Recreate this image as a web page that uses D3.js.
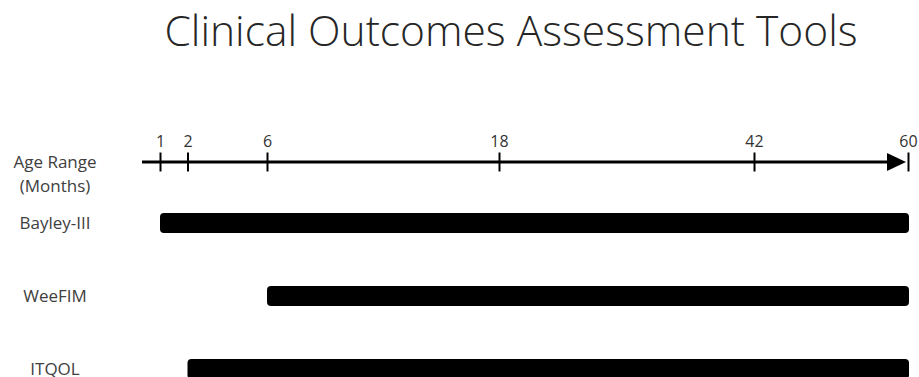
<!DOCTYPE html>
<html>
<head>
<meta charset="utf-8">
<script src="https://cdn.jsdelivr.net/npm/d3@7"></script>
<style>
  body { margin: 0; background: #fff; }
  text { font-family: "Open Sans", sans-serif; }
</style>
</head>
<body>
<div id="chart"></div>
<script>
// data
const titleText = 'Clinical Outcomes Assessment Tools';
const axisLabel = ['Age Range', '(Months)'];
const ageTicks = [1, 2, 6, 18, 42, 60];
const tools = ['Bayley-III', 'WeeFIM', 'ITQOL'];
const startAge = [1, 6, 2];
const endAge = [60, 60, 60];

const width = 919;
const height = 377;
const axisY = 162;

let svg = d3.select('#chart')
  .append('svg')
  .attr('width', width)
  .attr('height', height);

// the timeline is not even: each labelled age sits at its own place
let x = d3.scaleLinear()
  .domain(ageTicks)
  .range([160, 187.5, 267, 499, 754, 908]);

let y = d3.scalePoint()
  .domain(tools)
  .range([223, 369]);

// title
svg.append('text')
  .attr('x', 511)
  .attr('y', 46)
  .attr('text-anchor', 'middle')
  .style('font-size', '42.5px')
  .style('font-weight', 300)
  .attr('fill', '#262626')
  .text(titleText);

// axis line with arrow
const lineStart = x.range()[0] - 18;
const tip = x(60) - 2;
svg.append('line')
  .attr('x1', lineStart)
  .attr('x2', tip - 10)
  .attr('y1', axisY)
  .attr('y2', axisY)
  .attr('stroke', '#000')
  .attr('stroke-width', 3);

svg.append('path')
  .attr('d', `M${tip},${axisY} L${tip - 19},${axisY - 9} L${tip - 19},${axisY + 9} Z`)
  .attr('fill', '#000');

const xAxisCall = d3.axisTop(x)
  .tickValues(ageTicks)
  .tickFormat(d3.format('d'))
  .tickSize(19)
  .tickPadding(6);

const xAxisGroup = svg.append('g')
  .attr('transform', 'translate(0,' + (axisY + 9.5) + ')')
  .call(xAxisCall);

xAxisGroup.select('.domain').remove();
xAxisGroup.selectAll('.tick line')
  .attr('stroke', '#000')
  .attr('stroke-width', 2);
xAxisGroup.selectAll('.tick text')
  .attr('fill', '#333')
  .style('font-family', '"Open Sans", sans-serif')
  .style('font-size', '16px');

// left labels
const labelX = 55;
svg.selectAll('.axis-label')
  .data(axisLabel)
  .enter()
  .append('text')
    .attr('class', 'axis-label')
    .attr('x', labelX)
    .attr('y', (d, i) => axisY + 6 + i * 24)
    .attr('text-anchor', 'middle')
    .attr('fill', '#404040')
    .style('font-size', '17px')
    .text(d => d);

svg.selectAll('.tool-label')
  .data(tools)
  .enter()
  .append('text')
    .attr('class', 'tool-label')
    .attr('x', labelX)
    .attr('y', d => y(d) + 6)
    .attr('text-anchor', 'middle')
    .attr('fill', '#404040')
    .style('font-size', '17px')
    .text(d => d);

// bars
const barH = 20;
svg.selectAll('.bar')
  .data(tools)
  .enter()
  .append('rect')
    .attr('class', 'bar')
    .attr('x', (d, i) => x(startAge[i]))
    .attr('y', d => y(d) - barH / 2)
    .attr('width', (d, i) => x(endAge[i]) + 1 - x(startAge[i]))
    .attr('height', barH)
    .attr('rx', 4)
    .attr('fill', '#000');
</script>
</body>
</html>
